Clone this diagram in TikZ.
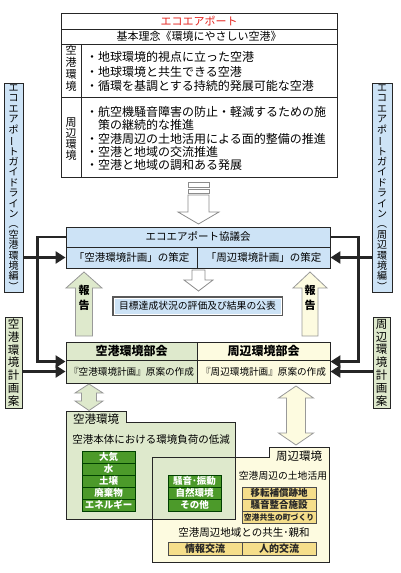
\documentclass[tikz,border=0pt]{standalone}
\usepackage{fontspec}
\setmainfont{Noto Sans CJK JP}
\usetikzlibrary{arrows.meta,positioning}
\definecolor{kyoblue}{HTML}{CDE3F6}
\definecolor{kugreen}{HTML}{DEE9CC}
\definecolor{shuyellow}{HTML}{FDFBE0}
\definecolor{deepgreen}{HTML}{4C9A2A}
\definecolor{goldfill}{HTML}{F5DE8A}
\definecolor{ecored}{HTML}{E3211C}
\newcommand\fs[2]{\fontsize{#1bp}{#2bp}\selectfont}
\newcommand\tatebar{\rotatebox[origin=c]{90}{ー}}
\tikzset{
  frame/.style={draw=black!85,line width=0.9bp},
  cell/.style={frame,inner sep=0pt,minimum width=#1},
  tate/.style 2 args={inner sep=0pt,align=center,font=\fs{#1}{#2}},
  link/.style={line width=2.6bp,black!85,-{Triangle[length=10bp,width=12bp]}},
  hollow/.style={draw=black!45,line width=0.8bp,fill=white},
  gcell/.style={draw=green!25!black,line width=0.6bp,fill=deepgreen,text=white,inner sep=0pt,
    font=\bfseries\fs{9.5}{11},minimum width=53bp,minimum height=12bp},
  ycell/.style={draw=black!70,line width=0.6bp,fill=goldfill,text=black!85,inner sep=0pt,
    font=\bfseries\fs{9.5}{11},minimum width=74bp,minimum height=12bp}
}
\begin{document}
\begin{tikzpicture}[x=1bp,y=-1bp]
\useasboundingbox (0,0) rectangle (400,573);

% vision table
\node[frame,inner sep=0pt,minimum width=276bp,minimum height=164bp] (vision) at (199,95) {};
\draw[frame] (61,29) -- (337,29) (61,44) -- (337,44) (61,97) -- (337,97) (81,44) -- (81,177);
\node[inner sep=0pt,text=ecored,font=\fs{11}{13}] (ecotitle) at (199,21) {エコエアポート};
\node[inner sep=0pt,font=\fs{11}{13}] (rinen) at (199,36.5) {基本理念《環境にやさしい空港》};
\node[tate={11}{12}] (kukolabel) at (71,68.5) {空\\港\\環\\境};
\node[tate={11}{11}] (shuhenlabel) at (71,139) {周\\辺\\環\\境};
\node[inner sep=0pt,anchor=west,align=left,font=\fs{12}{14.5}] (kukolist) at (86,71.5)
  {・地球環境的視点に立った空港\\・地球環境と共生できる空港\\・循環を基調とする持続的発展可能な空港};
\node[inner sep=0pt,anchor=west,align=left,font=\fs{12}{13.3}] (shuhenlist) at (86,138.5)
  {・航空機騒音障害の防止・軽減するための施\\\hspace*{12bp}策の継続的な推進\\・空港周辺の土地活用による面的整備の推進\\・空港と地域の交流推進\\・空港と地域の調和ある発展};

% down arrow to the council
\filldraw[hollow] (188,182) rectangle (209,187);
\filldraw[hollow] (188,189) rectangle (209,193);
\filldraw[hollow] (188,195) -- (209,195) -- (209,212) -- (219,212) -- (198.5,224)
  -- (178,212) -- (188,212) -- cycle;

% council
\node[cell=264bp,minimum height=20bp,fill=kyoblue,font=\fs{10.5}{12}] (kyogi) at (198,237) {エコエアポート協議会};
\node[cell=131bp,minimum height=21bp,fill=kyoblue,font=\fs{10.5}{12}] (sakuteiA) at (131.5,257.5) {「空港環境計画」の策定};
\node[cell=133bp,minimum height=21bp,fill=kyoblue,font=\fs{10.5}{12}] (sakuteiB) at (263.5,257.5) {「周辺環境計画」の策定};

\filldraw[hollow] (192,270) -- (205,270) -- (205,280) -- (213,280) -- (198.5,291)
  -- (184,280) -- (192,280) -- cycle;

\node[cell=169bp,minimum height=18bp,fill=kyoblue,draw=black!65,line width=1.2bp,font=\fs{9.8}{11}] (hyoka) at (197.5,306) {目標達成状況の評価及び結果の公表};
\draw[white,line width=0.6bp] ([shift={(1.8bp,-1.8bp)}]hyoka.north west) rectangle ([shift={(-1.8bp,1.8bp)}]hyoka.south east);

% report arrows
\filldraw[draw=black!40,line width=0.8bp,fill=kugreen] (84,272) -- (102,288) -- (92.5,288) -- (92.5,336)
  -- (75.5,336) -- (75.5,288) -- (66,288) -- cycle;
\filldraw[draw=black!40,line width=0.8bp,fill=shuyellow] (310,272) -- (327,288) -- (318,288) -- (318,336)
  -- (302,336) -- (302,288) -- (293,288) -- cycle;
\node[inner sep=0pt,align=center,font=\bfseries\fs{11}{14.5}] (hokokuA) at (84,298) {報\\告};
\node[inner sep=0pt,align=center,font=\bfseries\fs{11}{14.5}] (hokokuB) at (310,298) {報\\告};

% committees
\node[cell=131bp,minimum height=18bp,fill=kugreen,font=\bfseries\fs{12}{13}] (bukaiA) at (131.5,351) {空港環境部会};
\node[cell=133bp,minimum height=18bp,fill=shuyellow,font=\bfseries\fs{12}{13}] (bukaiB) at (263.5,351) {周辺環境部会};
\node[cell=131bp,minimum height=23bp,fill=kugreen,font=\fs{9.6}{11}] (genanA) at (131.5,371.5) {『空港環境計画』原案の作成};
\node[cell=133bp,minimum height=23bp,fill=shuyellow,font=\fs{9.6}{11}] (genanB) at (263.5,371.5) {『周辺環境計画』原案の作成};

% guidelines and plans
\node[cell=19bp,minimum height=209bp,fill=kyoblue,line width=0.8bp,tate={10}{10.4}] (guideA) at (13.5,187.5)
  {エ\\コ\\エ\\ア\\ポ\\\tatebar\\ト\\ガ\\イ\\ド\\ラ\\イ\\ン\\︵\\空\\港\\環\\境\\編\\︶};
\node[cell=20bp,minimum height=209bp,fill=kyoblue,line width=0.8bp,tate={10}{10.4}] (guideB) at (382,187.5)
  {エ\\コ\\エ\\ア\\ポ\\\tatebar\\ト\\ガ\\イ\\ド\\ラ\\イ\\ン\\︵\\周\\辺\\環\\境\\編\\︶};
\node[cell=17bp,minimum height=91bp,fill=kugreen,line width=0.8bp,tate={11.5}{12.8}] (keikakuA) at (13.5,362.5)
  {空\\港\\環\\境\\計\\画\\案};
\node[cell=17bp,minimum height=91bp,fill=kugreen,line width=0.8bp,tate={11.5}{12.8}] (keikakuB) at (381.5,362.5)
  {周\\辺\\環\\境\\計\\画\\案};

\draw[link] (guideA.east |- sakuteiA.west) -- (sakuteiA.west);
\draw[link] (guideB.west |- sakuteiB.east) -- (sakuteiB.east);
\draw[link] (kyogi.west) -- ++(-28,0) |- ([yshift=-2bp]genanA.north west);
\draw[link] (kyogi.east) -- ++(28,0) |- ([yshift=-2bp]genanB.north east);
\draw[link] (keikakuA.east |- genanA.west) -- (genanA.west);
\draw[link] (keikakuB.west |- genanB.east) -- (genanB.east);

% double arrows
\filldraw[draw=black!40,line width=0.8bp,fill=kugreen] (89,384) -- (103,393) -- (96.5,393) -- (96.5,401)
  -- (103,401) -- (89,410.5) -- (75,401) -- (81.5,401) -- (81.5,393) -- (75,393) -- cycle;
\filldraw[draw=black!40,line width=0.8bp,fill=shuyellow] (296,386) -- (313.5,398) -- (305.5,398) -- (305.5,433)
  -- (313.5,433) -- (296,445) -- (278.5,433) -- (286.5,433) -- (286.5,398) -- (278.5,398) -- cycle;

% the two fields
\fill[shuyellow] (152,457) -- (269,457) -- (269,447) -- (329,447) -- (329,562) -- (152,562) -- cycle;
\fill[kugreen] (66,411) -- (126,411) -- (126,422) -- (235,422) -- (235,519) -- (66,519) -- cycle;
\draw[frame] (152,457) -- (269,457) -- (269,447) -- (329,447) -- (329,562) -- (152,562) -- cycle;
\draw[frame] (66,411) -- (126,411) -- (126,422) -- (235,422) -- (235,519) -- (66,519) -- cycle;
\node[inner sep=0pt,font=\fs{11.5}{13}] (kukotab) at (96,419.5) {空港環境};
\node[inner sep=0pt,font=\fs{11.5}{13}] (shuhentab) at (299,456) {周辺環境};
\node[inner sep=0pt,font=\fs{10.5}{12}] (futan) at (151,440) {空港本体における環境負荷の低減};
\node[inner sep=0pt,font=\fs{9.8}{12}] (tochi) at (283,476) {空港周辺の土地活用};
\node[inner sep=0pt,font=\fs{10.5}{12}] (kyosei) at (244,533) {空港周辺地域との共生･親和};

\foreach \t [count=\i] in {大気,水,土壌,廃棄物,エネルギー}
  \node[gcell] (kukoitem\i) at (108.5,445+12*\i) {\t};
\foreach \t [count=\i] in {騒音･振動,自然環境,その他}
  \node[gcell] (shuhenitem\i) at (194.5,469+12*\i) {\t};
\foreach \t [count=\i] in {移転補償跡地,騒音整合施設,{\fs{7.8}{9}空港共生の町づくり}}
  \node[ycell] (tochiitem\i) at (279,481+12*\i) {\t};
\node[ycell,minimum height=13bp,font=\bfseries\fs{10}{11}] (joho) at (205,548.5) {情報交流};
\node[ycell,minimum height=13bp,font=\bfseries\fs{10}{11}] (jinteki) at (279,548.5) {人的交流};
\end{tikzpicture}
\end{document}
